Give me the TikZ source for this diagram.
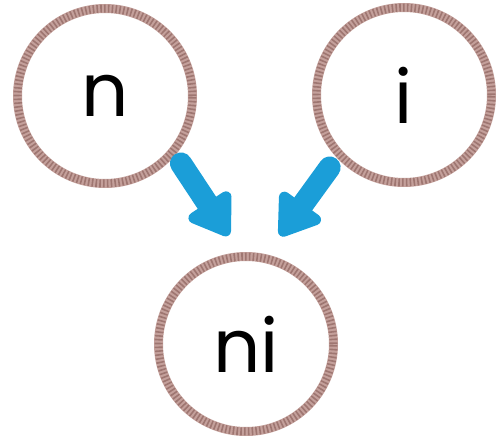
\documentclass[tikz,border=0pt]{standalone}
\usepackage{fontspec}
\newfontfamily\letterfont{Poppins}
\usetikzlibrary{arrows.meta}
\definecolor{ropebase}{RGB}{196,160,155}
\definecolor{ropedark}{RGB}{158,118,113}
\definecolor{arrowblue}{RGB}{27,158,216}
\tikzset{
    syl/.style={circle,draw=ropebase,fill=white,line width=9pt,minimum size=175pt,inner sep=0pt,
        font=\letterfont\fontsize{74}{74}\selectfont,
        postaction={draw=ropedark,line width=8pt,dash pattern=on 1.6pt off 2.2pt}},
    push/.style={draw=arrowblue,line width=22pt,line cap=round,
        -{Triangle[round,length=44pt,width=56pt]}},
}
\begin{document}
\begin{tikzpicture}[x=1pt,y=-1pt]
\useasboundingbox (0,0) rectangle (501,439);
\node[syl] (n)  at (105,96)  {n};
\node[syl] (i)  at (404,95)  {i};
\node[syl] (ni) at (246,344) {ni};
\draw[push,shorten <=10pt,shorten >=20pt] (n.-40) -- (ni.94);
\draw[push,shorten <=12pt,shorten >=23pt] (i.223) -- (ni.77);
\end{tikzpicture}
\end{document}
